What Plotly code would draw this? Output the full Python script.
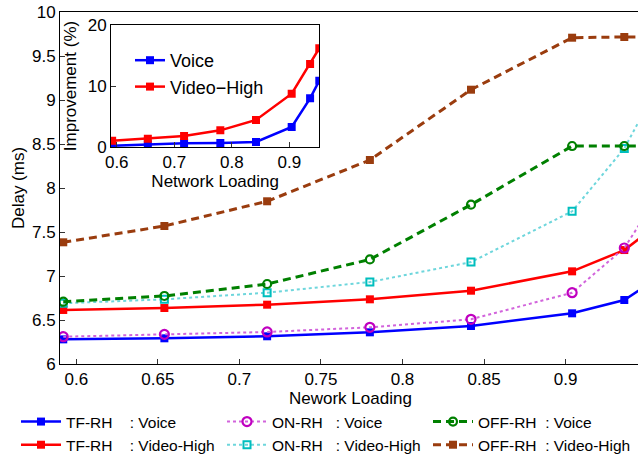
import plotly.graph_objects as go

# ---------------- data ----------------
loading = [0.592, 0.654, 0.717, 0.780, 0.842, 0.904, 0.936, 0.952]

tf_voice = [6.28, 6.292, 6.315, 6.36, 6.432, 6.576, 6.727, 6.92]
tf_video = [6.614, 6.636, 6.674, 6.735, 6.833, 7.053, 7.295, 7.52]
on_voice = [6.31, 6.337, 6.364, 6.417, 6.508, 6.81, 7.318, 7.78]
on_video = [6.69, 6.735, 6.81, 6.932, 7.158, 7.735, 8.45, 9.0]
off_voice = [6.708, 6.773, 6.909, 7.188, 7.81, 8.477, 8.477, 8.477]
off_video = [7.383, 7.568, 7.849, 8.318, 9.117, 9.708, 9.716, 9.716]

imp_voice = [0.2, 0.44, 0.6, 0.66, 0.82, 3.28, 7.98, 10.87]
imp_video = [1.03, 1.37, 1.8, 2.73, 4.43, 8.74, 13.6, 16.2]

x_ticks = [0.6, 0.65, 0.7, 0.75, 0.8, 0.85, 0.9]
y_ticks = [6, 6.5, 7, 7.5, 8, 8.5, 9, 9.5, 10]
inset_x_ticks = [0.6, 0.7, 0.8, 0.9]
inset_y_ticks = [0, 10, 20]

FONT = "Liberation Sans, Arial, sans-serif"
NB = "\u00a0"

fig = go.Figure()

# name, values, line colour, marker colour, dash, line width, symbol, size, marker line width, legend id
series = [
    ("TF-RH" + NB * 4 + ": Voice", tf_voice, "#0000FF", "#0000FF", "solid", 2.5, "square", 8, 0, "legend"),
    ("TF-RH" + NB * 4 + ": Video-High", tf_video, "#FF0000", "#FF0000", "solid", 2.5, "square", 8, 0, "legend"),
    ("ON-RH" + NB * 3 + ": Voice", on_voice, "#D264DC", "#C000C0", "dot", 2, "circle-open", 9, 2.2, "legend3"),
    ("ON-RH" + NB * 3 + ": Video-High", on_video, "#6ED6DC", "#00BEBE", "dot", 2, "square-open", 7, 2, "legend3"),
    ("OFF-RH" + NB * 2 + ": Voice", off_voice, "#008000", "#008000", "8px,5px", 3, "circle-open", 8, 2.2, "legend4"),
    ("OFF-RH" + NB * 2 + ": Video-High", off_video, "#9A3C0E", "#9A3C0E", "8px,5px", 3, "square", 8, 0, "legend4"),
]

for name, vals, lcol, mcol, dash, lw, sym, ms, mlw, leg in series:
    marker = dict(symbol=sym, size=ms, color=mcol)
    if mlw:
        marker["line"] = dict(color=mcol, width=mlw)
    fig.add_trace(go.Scatter(
        x=loading, y=vals, name=name, mode="lines+markers",
        line=dict(color=lcol, width=lw, dash=dash),
        marker=marker, xaxis="x", yaxis="y", legend=leg,
    ))

for name, vals, col in [("Voice", imp_voice, "#0000FF"), ("Video\u2212High", imp_video, "#FF0000")]:
    fig.add_trace(go.Scatter(
        x=loading, y=vals, name=name, mode="lines+markers",
        line=dict(color=col, width=2.5),
        marker=dict(symbol="square", size=8, color=col),
        xaxis="x2", yaxis="y2", legend="legend2",
    ))

W, H = 638, 456
ml, mr, mt, mb = 60, 0, 12, 92
pw, ph = W - ml - mr, H - mt - mb


def px_x(p):
    return (p - ml) / pw


def px_y(p):
    return (H - mb - p) / ph


axis_common = dict(
    showline=True, linecolor="black", linewidth=1, mirror=True,
    ticks="inside", ticklen=5, tickcolor="#333333", showgrid=False, zeroline=False,
    tickfont=dict(family=FONT, size=17, color="black"),
)


def bottom_legend(xpx):
    return dict(
        orientation="v", xref="paper", yref="container",
        x=px_x(xpx), xanchor="left", y=1 - 405 / H, yanchor="top",
        font=dict(family=FONT, size=15.5, color="black"),
        bgcolor="rgba(0,0,0,0)", itemwidth=40, tracegroupgap=0,
    )


fig.update_layout(
    width=W, height=H,
    margin=dict(l=ml, r=mr, t=mt, b=mb, autoexpand=False),
    paper_bgcolor="white", plot_bgcolor="white",
    font=dict(family=FONT, color="black"),
    xaxis=dict(
        **axis_common, range=[0.59, 0.9444], tickvals=x_ticks,
        ticktext=[str(v) for v in x_ticks],
        domain=[0, 1],
    ),
    yaxis=dict(
        **axis_common, range=[6, 10], tickvals=y_ticks,
        ticktext=[("%g" % v) for v in y_ticks],
        title=dict(text="Delay (ms)", font=dict(family=FONT, size=17), standoff=3),
        domain=[0, 1],
    ),
    xaxis2=dict(
        **axis_common, range=[0.59, 0.952], tickvals=inset_x_ticks,
        ticktext=[str(v) for v in inset_x_ticks],
        domain=[px_x(111), px_x(319.3)], anchor="y2",
        title=dict(text="Network Loading", font=dict(family=FONT, size=17), standoff=2),
    ),
    yaxis2=dict(
        **axis_common, range=[0, 20], tickvals=inset_y_ticks,
        ticktext=[str(v) for v in inset_y_ticks],
        domain=[px_y(147), px_y(25)], anchor="x2",
        title=dict(text="Improvement (%)", font=dict(family=FONT, size=17), standoff=6),
    ),
    legend=bottom_legend(16),
    legend3=bottom_legend(222),
    legend4=bottom_legend(428),
    legend2=dict(
        x=px_x(130), xanchor="left", y=px_y(42), yanchor="top",
        font=dict(family=FONT, size=18, color="black"),
        bgcolor="rgba(0,0,0,0)", itemwidth=30,
    ),
    annotations=[dict(
        text="Nework Loading", xref="paper", yref="paper",
        x=px_x(350), y=px_y(398.5), xanchor="center", yanchor="middle",
        showarrow=False, font=dict(family=FONT, size=17, color="black"),
    )],
    showlegend=True,
)

fig.write_html(
    "out.html",
    config={"displayModeBar": False},
    post_script="document.body.style.margin='0';document.body.style.overflow='hidden';",
)
